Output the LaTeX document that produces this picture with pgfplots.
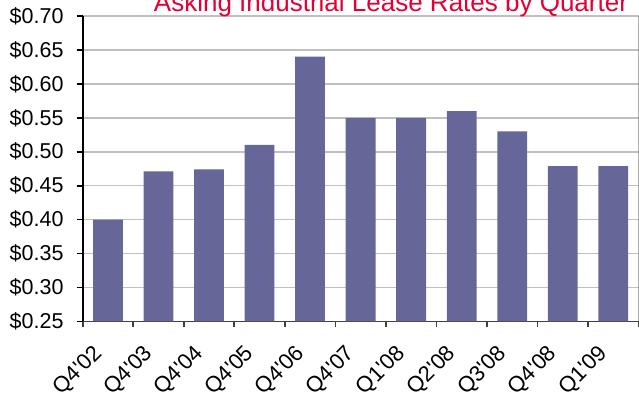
\documentclass[border=0pt]{standalone}
\usepackage{fontspec}
\setmainfont{Liberation Sans}[Ligatures=TeXOff]
\usepackage{pgfplots}
\pgfplotsset{compat=1.18}
\definecolor{barcol}{RGB}{102,102,153}
\definecolor{gridcol}{RGB}{192,192,192}
\definecolor{titlecol}{RGB}{226,0,52}
\definecolor{xaxcol}{RGB}{64,64,64}
\begin{document}
\begin{tikzpicture}[x=1pt,y=1pt]
\path[use as bounding box] (0,0) rectangle (639,401);
\begin{axis}[
  at={(82.7pt,79.5pt)}, anchor=south west,
  scale only axis, width=555.8pt, height=305.5pt,
  xmin=-0.5, xmax=10.5, ymin=0.25, ymax=0.70,
  axis x line=bottom, axis y line=left,
  axis line style={-},
  x axis line style={draw=xaxcol, line width=1.6pt},
  y axis line style={draw=black, line width=1.6pt},
  tick align=outside,
  major tick length=6pt,
  ytick={0.25,0.30,0.35,0.40,0.45,0.50,0.55,0.60,0.65,0.70},
  yticklabels={\$0.25,\$0.30,\$0.35,\$0.40,\$0.45,\$0.50,\$0.55,\$0.60,\$0.65,\$0.70},
  ytick style={draw=black, line width=1.6pt},
  xtick={-0.5,0.5,1.5,2.5,3.5,4.5,5.5,6.5,7.5,8.5,9.5,10.5},
  xticklabels={},
  xtick style={draw=xaxcol, line width=1.6pt},
  extra x ticks={0,1,2,3,4,5,6,7,8,9,10},
  extra x tick labels={Q4'02,Q4'03,Q4'04,Q4'05,Q4'06,Q4'07,Q1'08,Q2'08,Q3'08,Q4'08,Q1'09},
  extra x tick style={major tick length=0pt,
     xticklabel style={font=\fontsize{22}{26}\selectfont, xshift=-16pt, yshift=-22pt, rotate=45, anchor=north east, inner sep=0pt}},
  ymajorgrids,
  grid style={draw=gridcol, line width=1.5pt},
  tick label style={font=\fontsize{21.5}{25}\selectfont},
  yticklabel style={anchor=east, inner sep=0pt, xshift=-13pt},
]
\addplot[ybar, bar width=0.59, fill=barcol, draw=none] coordinates {
  (0,0.400) (1,0.471) (2,0.474) (3,0.510) (4,0.640) (5,0.550)
  (6,0.550) (7,0.560) (8,0.530) (9,0.479) (10,0.479)
};
\draw[draw=gray, line width=1pt] (rel axis cs:1,0) -- (rel axis cs:1,1);
\end{axis}
\node[anchor=base, font=\fontsize{26}{30}\selectfont, text=titlecol] at (391,389) {Asking Industrial Lease Rates by Quarter};
\end{tikzpicture}
\end{document}
